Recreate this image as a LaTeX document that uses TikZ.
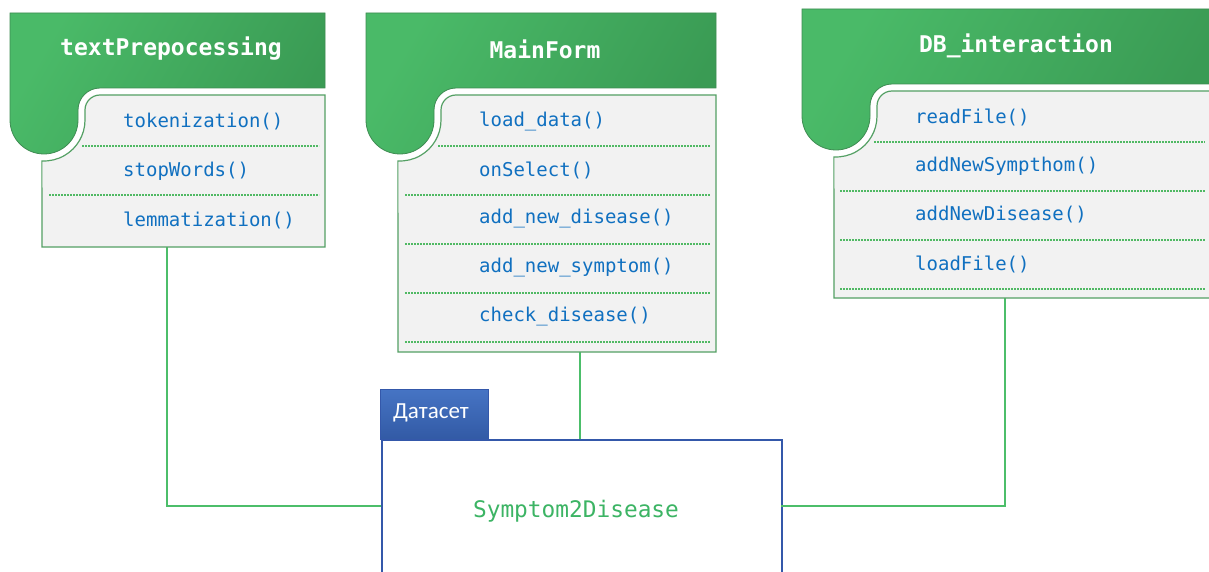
\documentclass[tikz,border=0pt]{standalone}
\usepackage{fontspec}
\setmonofont{DejaVu Sans Mono}
\newfontfamily\cyrfont{Carlito}
\definecolor{hgL}{RGB}{74,186,104}
\definecolor{hgR}{RGB}{58,155,84}
\definecolor{hgB}{RGB}{62,140,82}
\definecolor{pnl}{RGB}{242,242,242}
\definecolor{pnlB}{RGB}{84,160,100}
\definecolor{mth}{RGB}{16,112,192}
\definecolor{dotc}{RGB}{80,185,100}
\definecolor{conc}{RGB}{76,190,106}
\definecolor{dsB}{RGB}{52,88,170}
\definecolor{tabT}{RGB}{70,116,196}
\definecolor{tabB}{RGB}{50,90,165}
\definecolor{s2dc}{RGB}{60,180,100}
\tikzset{
  hdrstyle/.style={draw=hgB, line width=0.8pt, left color=hgL, right color=hgR, shading angle=60},
  pnlstyle/.style={draw=pnlB, line width=1.2pt, fill=pnl},
  ttl/.style={text=white, font=\ttfamily\bfseries\fontsize{23}{26}\selectfont, inner sep=0pt},
  mthd/.style={text=mth, font=\ttfamily\fontsize{19}{22}\selectfont, anchor=west, inner sep=0pt},
  divl/.style={draw=dotc, line width=1.2pt, dash pattern=on 1.8pt off 1.2pt},
  conn/.style={draw=conc, line width=1.8pt},
  tabstyle/.style={draw=dsB, line width=0.8pt, top color=tabT, bottom color=tabB, minimum width=108pt, minimum height=50pt, inner sep=0pt},
  dsstyle/.style={draw=dsB, line width=1.6pt, fill=white, minimum width=400pt, minimum height=200pt, inner sep=0pt}
}
% L R T HB
\newcommand\classhdr[4]{%
  \path[hdrstyle] (#1,#3) -- (#2,#3) -- (#2,#4) -- ({#1+90},#4)
    arc[start angle=270,end angle=180,radius=22] -- ({#1+68},{#4+32})
    arc[start angle=0,end angle=180,radius=34] -- cycle;}
% L R HB PB
\newcommand\classpnl[4]{%
  \path[pnlstyle] (#2,#4) -- (#2,{#3+7}) -- ({#1+90},{#3+7})
    arc[start angle=270,end angle=180,radius=15] -- ({#1+75},{#3+32})
    arc[start angle=0,end angle=93,radius=41] -- ({#1+32},#4) -- cycle;}
\begin{document}
\begin{tikzpicture}[x=1pt,y=1pt,yscale=-1]
\clip (0,0) rectangle (1209,572);
\fill[white] (0,0) rectangle (1209,572);

% dataset and connectors
\coordinate (c1) at (167,247);
\coordinate (c2) at (580,352);
\coordinate (c3) at (1005,298);
\node[dsstyle, anchor=north west] (ds) at (381,439) {};
\node[tabstyle, anchor=north west] (tab) at (380,389) {};
\node[text=white, font=\cyrfont\fontsize{23}{26}\selectfont, inner sep=0pt] (tabt) at (431,413) {Датасет};
\node[text=s2dc, font=\ttfamily\fontsize{22.8}{26}\selectfont, inner sep=0pt] (s2d) at (576,511) {Symptom2Disease};
\coordinate (dsl) at (381,506);
\coordinate (dsr) at (781,506);
\coordinate (dst) at (580,439);
\draw[conn] (c1) |- (dsl);
\draw[conn] (c2) -- (dst);
\draw[conn] (c3) |- (dsr);

% class 1
\classpnl{10}{325}{88}{247}
\classhdr{10}{325}{13}{88}
\node[ttl] (t1) at (171,49) {textPrepocessing};
\node[mthd] (m11) at (123,122) {tokenization()};
\node[mthd] (m12) at (123,171) {stopWords()};
\node[mthd] (m13) at (123,220) {lemmatization()};
\draw[divl] (82,146) -- (319,146);
\draw[divl] (49,195) -- (319,195);

% class 2
\classpnl{366}{716}{88}{352}
\classhdr{366}{716}{13}{88}
\node[ttl] (t2) at (545,49) {MainForm};
\node[mthd] (m21) at (479,121) {load\_data()};
\node[mthd] (m22) at (479,170) {onSelect()};
\node[mthd] (m23) at (479,219) {add\_new\_disease()};
\node[mthd] (m24) at (479,268) {add\_new\_symptom()};
\node[mthd] (m25) at (479,317) {check\_disease()};
\draw[divl] (438,146) -- (710,146);
\foreach \yy in {195,244,293,342} \draw[divl] (405,\yy) -- (710,\yy);

% class 3
\classpnl{802}{1216}{84}{298}
\classhdr{802}{1216}{9}{84}
\node[ttl] (t3) at (1016,46) {DB\_interaction};
\node[mthd] (m31) at (915,117) {readFile()};
\node[mthd] (m32) at (915,166) {addNewSympthom()};
\node[mthd] (m33) at (915,215) {addNewDisease()};
\node[mthd] (m34) at (915,264) {loadFile()};
\draw[divl] (874,142) -- (1205,142);
\foreach \yy in {191,240,289} \draw[divl] (840,\yy) -- (1205,\yy);
\end{tikzpicture}
\end{document}
